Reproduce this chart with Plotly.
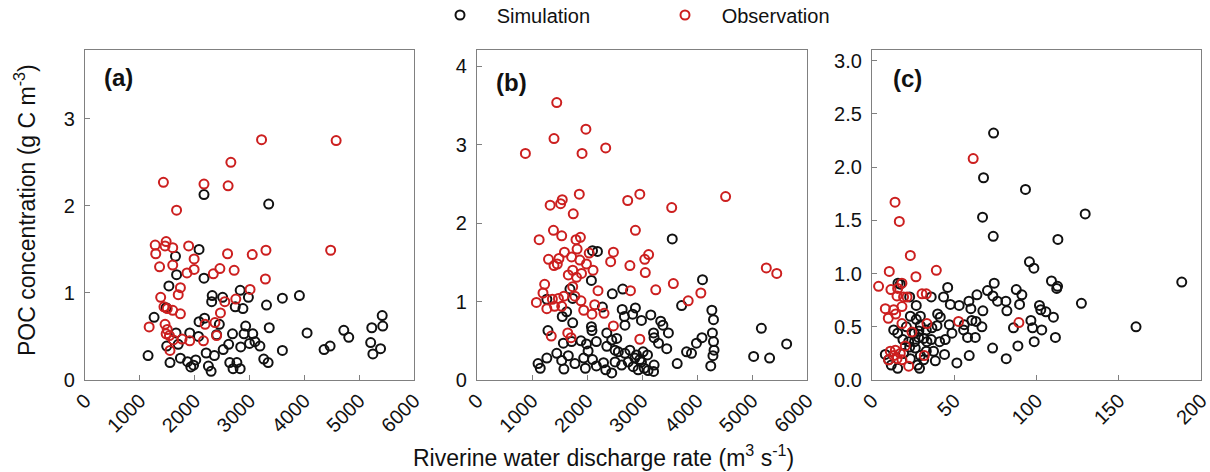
import plotly.graph_objects as go

# ---------------- data ----------------
# Panel (a)
a_obs_x = [1430, 3220, 4580, 2660, 2170, 2610, 1670, 1280, 1480, 1460, 1600, 1290, 1890, 1360, 1600, 1990, 1990,
           1860, 2340, 2460, 2600, 2720, 3050, 3300, 4480, 3290, 1740, 1700, 3010, 1380, 1440, 1500, 1600, 1740,
           2550, 2750, 2470, 1170, 1460, 1500, 1480, 1540, 1610, 1770, 1910, 2160, 2190, 2370, 2400, 1550]
a_obs_y = [2.27, 2.76, 2.75, 2.50, 2.25, 2.23, 1.95, 1.55, 1.59, 1.54, 1.52, 1.45, 1.54, 1.30, 1.32, 1.39, 1.27,
           1.23, 1.22, 1.28, 1.45, 1.26, 1.44, 1.49, 1.49, 1.16, 1.06, 0.98, 1.04, 0.95, 0.84, 0.82, 0.80, 0.76,
           0.90, 0.93, 0.77, 0.61, 0.64, 0.58, 0.53, 0.51, 0.46, 0.47, 0.45, 0.45, 0.64, 0.66, 0.51, 0.34]
a_sim_x = [2170, 3350, 2080, 1650, 1670, 2170, 1530, 2830, 2320, 2510, 2310, 2740, 2880, 2980, 3600, 3910, 3310,
           1480, 1260, 2080, 2180, 2450, 2930, 3360, 2900, 3060, 2690, 1910, 1660, 2070, 2400, 4050, 4720, 4810,
           5230, 5420, 5430, 5210, 5390, 5250, 4470, 4360, 3600, 3100, 3190, 3000, 2840, 2620, 2520, 1490, 1700,
           1150, 1740, 1550, 1870, 2020, 2210, 2360, 1930, 1980, 2250, 2300, 2640, 2770, 2700, 2830, 3260, 3340]
a_sim_y = [2.13, 2.02, 1.50, 1.42, 1.21, 1.17, 1.08, 1.03, 0.97, 0.95, 0.90, 0.84, 0.82, 0.95, 0.94, 0.97, 0.86,
           0.83, 0.72, 0.67, 0.71, 0.64, 0.62, 0.60, 0.53, 0.53, 0.53, 0.54, 0.54, 0.50, 0.52, 0.54, 0.57, 0.49,
           0.60, 0.74, 0.62, 0.43, 0.36, 0.30, 0.39, 0.35, 0.34, 0.44, 0.39, 0.42, 0.38, 0.41, 0.35, 0.39, 0.41,
           0.28, 0.25, 0.20, 0.21, 0.23, 0.31, 0.28, 0.15, 0.17, 0.16, 0.10, 0.20, 0.20, 0.13, 0.13, 0.24, 0.20]

# Panel (b)
b_obs_x = [880, 1450, 1400, 1980, 1910, 2340, 1330, 1550, 1520, 1860, 1750, 2740, 2960, 3540, 4520, 2880, 1130,
           1390, 1540, 1800, 1880, 1820, 1300, 1400, 1460, 1490, 1590, 1720, 1870, 1990, 2110, 2040, 2480, 2430,
           2780, 3050, 3120, 3060, 3570, 5260, 5450, 1230, 1200, 1080, 1270, 1370, 1480, 1580, 1660, 1740, 1810,
           1900, 1740, 1780, 1890, 1940, 1410, 1540, 2200, 2140, 2090, 2310, 2790, 3250, 3840, 4070, 2480, 1350,
           1650, 1710, 2960]
b_obs_y = [2.89, 3.54, 3.08, 3.20, 2.89, 2.96, 2.23, 2.30, 2.25, 2.37, 2.12, 2.29, 2.37, 2.20, 2.34, 1.91, 1.79,
           1.91, 1.84, 1.79, 1.82, 1.67, 1.54, 1.46, 1.48, 1.55, 1.63, 1.57, 1.53, 1.48, 1.40, 1.62, 1.63, 1.51,
           1.46, 1.54, 1.60, 1.37, 1.23, 1.43, 1.36, 1.22, 1.11, 0.99, 0.91, 1.03, 1.04, 1.07, 1.34, 1.40, 1.31,
           1.36, 1.19, 1.07, 1.01, 0.89, 0.94, 0.94, 1.14, 0.96, 0.84, 0.85, 1.14, 1.15, 1.01, 1.11, 0.69, 0.56,
           0.60, 0.54, 0.52]
b_sim_x = [3550, 2100, 2190, 2080, 4100, 2650, 2460, 1690, 1270, 1740, 2280, 2640, 2880, 3720, 4270, 4300, 1550,
           1740, 1630, 2680, 2830, 2990, 3160, 3340, 3380, 2690, 2080, 2090, 1290, 3480, 3210, 3220, 5170, 5630,
           4280, 4300, 4310, 4290, 4250, 4090, 3990, 3900, 3810, 3640, 3450, 3300, 5030, 5320, 2360, 2450, 2540,
           2360, 2510, 2170, 1990, 1890, 1570, 1720, 2780, 2900, 3020, 3100, 2690, 2570, 1450, 1270, 1110, 1150,
           1540, 1580, 1660, 1780, 1970, 2100, 2170, 2300, 2340, 2450, 2510, 2630, 2750, 2840, 2930, 2990, 3040,
           3110, 3220, 3210, 2960, 2870, 1940, 2020]
b_sim_y = [1.80, 1.65, 1.64, 1.27, 1.28, 1.16, 1.10, 1.16, 1.03, 1.04, 0.93, 0.90, 0.92, 0.95, 0.89, 0.77, 0.81,
           0.73, 0.87, 0.81, 0.84, 0.76, 0.83, 0.75, 0.70, 0.70, 0.68, 0.63, 0.63, 0.60, 0.60, 0.54, 0.66, 0.46,
           0.60, 0.49, 0.38, 0.31, 0.18, 0.54, 0.47, 0.34, 0.36, 0.21, 0.40, 0.47, 0.30, 0.28, 0.60, 0.51, 0.53,
           0.43, 0.38, 0.49, 0.46, 0.50, 0.47, 0.49, 0.38, 0.32, 0.36, 0.32, 0.34, 0.36, 0.34, 0.28, 0.21, 0.15,
           0.25, 0.14, 0.31, 0.21, 0.15, 0.26, 0.18, 0.22, 0.13, 0.09, 0.23, 0.19, 0.23, 0.17, 0.13, 0.23, 0.15,
           0.12, 0.19, 0.11, 0.26, 0.28, 0.28, 0.37]

# Panel (c)
c_obs_x = [61.5, 14.0, 16.6, 23.3, 10.5, 39.1, 26.7, 4.0, 11.5, 15.6, 18.2, 15.2, 19.2, 21.3, 30.4, 33.0, 8.1,
           13.2, 18.2, 9.9, 14.4, 18.2, 24.3, 33.4, 52.6, 89.3, 11.1, 14.2, 17.2, 20.2, 10.1, 15.2, 18.2, 22.3,
           31.8, 13.2]
c_obs_y = [2.08, 1.67, 1.49, 1.17, 1.02, 1.03, 0.97, 0.88, 0.85, 0.86, 0.91, 0.79, 0.78, 0.78, 0.81, 0.81, 0.67,
           0.66, 0.69, 0.58, 0.62, 0.53, 0.45, 0.53, 0.55, 0.54, 0.27, 0.28, 0.25, 0.32, 0.19, 0.20, 0.19, 0.13,
           0.23, 0.23]
c_sim_x = [73.9, 67.8, 93.3, 67.2, 129.6, 73.7, 113.0, 95.7, 98.4, 109.1, 112.8, 112.3, 188.3, 74.3, 70.2, 63.8,
           58.9, 46.0, 43.5, 47.6, 53.0, 60.1, 67.4, 73.5, 76.3, 81.4, 82.0, 87.7, 91.1, 89.7, 101.8, 102.6, 105.7,
           110.3, 96.6, 97.6, 103.2, 111.5, 127.3, 160.5, 98.6, 88.7, 73.3, 81.6, 86.0, 66.8, 63.2, 60.7, 56.1,
           55.7, 58.1, 62.8, 48.6, 47.0, 41.5, 39.9, 44.5, 41.1, 36.0, 39.5, 36.4, 33.0, 29.4, 26.9, 23.3, 29.4,
           26.9, 22.9, 36.0, 15.8, 17.2, 13.2, 15.6, 18.8, 22.3, 25.9, 28.3, 31.4, 33.4, 37.4, 38.5, 44.1, 51.6,
           59.1, 22.9, 26.3, 29.4, 28.9, 27.7, 8.1, 10.1, 11.7, 15.6, 19.2, 23.3, 31.4, 25.7, 28.5, 20.9, 33.0]
c_sim_y = [2.32, 1.90, 1.79, 1.53, 1.56, 1.35, 1.32, 1.11, 1.05, 0.93, 0.88, 0.86, 0.92, 0.91, 0.84, 0.80, 0.74,
           0.87, 0.78, 0.71, 0.70, 0.67, 0.65, 0.79, 0.74, 0.74, 0.65, 0.85, 0.80, 0.71, 0.70, 0.66, 0.64, 0.59,
           0.56, 0.49, 0.47, 0.40, 0.72, 0.50, 0.36, 0.32, 0.30, 0.20, 0.49, 0.50, 0.55, 0.56, 0.52, 0.47, 0.40,
           0.40, 0.44, 0.52, 0.59, 0.62, 0.38, 0.36, 0.38, 0.51, 0.49, 0.47, 0.51, 0.57, 0.60, 0.60, 0.70, 0.78,
           0.78, 0.91, 0.90, 0.47, 0.44, 0.38, 0.36, 0.36, 0.40, 0.39, 0.36, 0.27, 0.18, 0.24, 0.16, 0.23, 0.31,
           0.30, 0.23, 0.11, 0.14, 0.24, 0.19, 0.14, 0.11, 0.25, 0.20, 0.19, 0.44, 0.46, 0.50, 0.27]

panel_labels = ["(a)", "(b)", "(c)"]
series_names = ["Simulation", "Observation"]
x_ticks_ab = [0, 1000, 2000, 3000, 4000, 5000, 6000]
x_ticks_c = [0, 50, 100, 150, 200]
y_ticks_a = [0, 1, 2, 3]
y_ticks_b = [0, 1, 2, 3, 4]
y_ticks_c = [0.0, 0.5, 1.0, 1.5, 2.0, 2.5, 3.0]

# ---------------- figure ----------------
FONT = "Arial, Liberation Sans, sans-serif"
BLACK = "#111111"
RED = "#cc1f1f"
TXT = "#111111"
W, H = 1210, 472
ML, MR, MT, MB = 85, 9, 50, 92
PW = W - ML - MR
PH = H - MT - MB

def dom(x0, x1):
    return [(x0 - ML) / PW, (x1 - ML) / PW]

domains = [dom(85, 414), dom(477, 807), dom(872, 1201)]

fig = go.Figure()

panels = [
    (a_sim_x, a_sim_y, a_obs_x, a_obs_y),
    (b_sim_x, b_sim_y, b_obs_x, b_obs_y),
    (c_sim_x, c_sim_y, c_obs_x, c_obs_y),
]
for i, (sx, sy, ox, oy) in enumerate(panels):
    xa = "x" if i == 0 else f"x{i+1}"
    ya = "y" if i == 0 else f"y{i+1}"
    fig.add_trace(go.Scatter(
        x=sx, y=sy, mode="markers", name="\u00a0\u00a0\u00a0" + series_names[0],
        legendgroup="sim", showlegend=(i == 0), xaxis=xa, yaxis=ya,
        marker=dict(symbol="circle-open", size=9, color=BLACK, line=dict(width=2, color=BLACK))))
    fig.add_trace(go.Scatter(
        x=ox, y=oy, mode="markers", name="\u00a0\u00a0\u00a0" + series_names[1],
        legendgroup="obs", showlegend=(i == 0), xaxis=xa, yaxis=ya,
        marker=dict(symbol="circle-open", size=9, color=RED, line=dict(width=2, color=RED))))

axis_common = dict(
    showgrid=False, zeroline=False, showline=True, mirror=True,
    linecolor="#808080", linewidth=1.2, ticks="inside", ticklen=5,
    tickcolor="#808080", tickfont=dict(family=FONT, size=20, color=TXT),
    ticklabeloverflow="allow",
)

x_ranges = [[0, 6000], [0, 6000], [0, 200]]
x_tickvals = [x_ticks_ab, x_ticks_ab, x_ticks_c]
y_ranges = [[0, 3.79], [0, 4.21], [0, 3.1]]
y_tickvals = [y_ticks_a, y_ticks_b, y_ticks_c]

layout_axes = {}
for i in range(3):
    xk = "xaxis" if i == 0 else f"xaxis{i+1}"
    yk = "yaxis" if i == 0 else f"yaxis{i+1}"
    ya = "y" if i == 0 else f"y{i+1}"
    xa = "x" if i == 0 else f"x{i+1}"
    layout_axes[xk] = dict(axis_common, domain=domains[i], anchor=ya, range=x_ranges[i],
                           tickvals=x_tickvals[i], tickangle=-45, automargin=False)
    ydict = dict(axis_common, domain=[0, 1], anchor=xa, range=y_ranges[i],
                 tickvals=y_tickvals[i], ticklabelstandoff=5, automargin=False)
    if i == 2:
        ydict["tickformat"] = ".1f"
    layout_axes[yk] = ydict

fig.update_layout(**layout_axes)

annotations = []
label_pos = [(0.052, 0.918), (0.052, 0.903), (0.058, 0.915)]
for i, lab in enumerate(panel_labels):
    xr = "x domain" if i == 0 else f"x{i+1} domain"
    yr = "y domain" if i == 0 else f"y{i+1} domain"
    annotations.append(dict(text=f"<b>{lab}</b>", xref=xr, yref=yr, x=label_pos[i][0], y=label_pos[i][1],
                            xanchor="left", yanchor="middle", showarrow=False,
                            font=dict(family=FONT, size=24, color=TXT)))

annotations.append(dict(text="POC concentration (g C m<sup>-3</sup>)", xref="paper", yref="paper",
                        x=(25 - ML) / PW, y=(H - MB - 210) / PH, textangle=-90,
                        xanchor="center", yanchor="middle", showarrow=False,
                        font=dict(family=FONT, size=23, color=TXT)))
annotations.append(dict(text="Riverine water discharge rate (m<sup>3</sup> s<sup>-1</sup>)", xref="paper",
                        yref="paper", x=(603 - ML) / PW, y=(H - MB - 456) / PH,
                        xanchor="center", yanchor="middle", showarrow=False,
                        font=dict(family=FONT, size=23, color=TXT)))

fig.update_layout(
    width=W, height=H,
    margin=dict(l=ML, r=MR, t=MT, b=MB, autoexpand=False),
    paper_bgcolor="white", plot_bgcolor="white",
    font=dict(family=FONT, size=20, color=TXT),
    annotations=annotations,
    showlegend=True,
    legend=dict(orientation="h", xref="container", yref="container",
                x=440 / W, y=1 - 15 / H, xanchor="left", yanchor="middle",
                entrywidth=180, entrywidthmode="pixels", bgcolor="rgba(0,0,0,0)",
                font=dict(family=FONT, size=20, color=TXT), itemsizing="trace"),
)

fig.write_html("out.html")
